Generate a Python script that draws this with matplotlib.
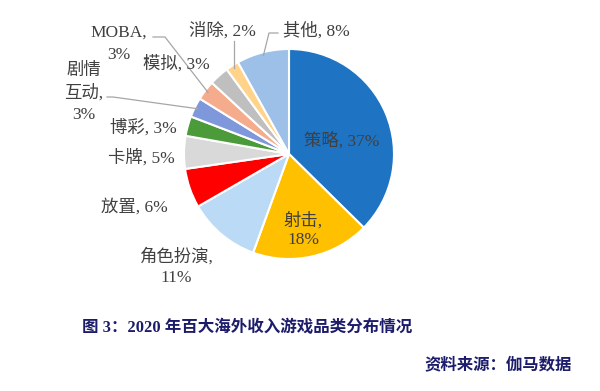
import numpy as np
import matplotlib
matplotlib.use("Agg")
import matplotlib.pyplot as plt

categories = ["策略", "射击", "角色扮演", "放置", "卡牌", "博彩", "剧情互动", "MOBA", "模拟", "消除", "其他"]
values = [37, 18, 11, 6, 5, 3, 3, 3, 3, 2, 8]
label_texts = ["策略, 37%", "射击,\n18%", "角色扮演,\n11%", "放置, 6%", "卡牌, 5%", "博彩, 3%",
               "剧情\n互动,\n3%", "MOBA,\n3%", "模拟, 3%", "消除, 2%", "其他, 8%"]
colors = ["#1F73C3", "#FFC000", "#BBDAF5", "#FF0000", "#D9D9D9", "#4B9B3A",
          "#7F98DC", "#F4AC8C", "#BFBFBF", "#FFD38A", "#9CC0E8"]

FONT = ["Liberation Serif", "Noto Sans CJK SC", "DejaVu Sans"]
W, H = 600, 391
fig = plt.figure(figsize=(6.0, 3.91), dpi=100)
ax = fig.add_axes([0, 0, 1, 1])

cx, cy, r = 289, H - 154, 105
wedges, _ = ax.pie(values, colors=colors, startangle=90, counterclock=False,
                   center=(cx, cy), radius=r, frame=True,
                   wedgeprops=dict(edgecolor="white", linewidth=1.5))
ax.set_xlim(0, W)
ax.set_ylim(0, H)
ax.set_aspect("equal")
ax.axis("off")

# label positions (pixel coords, y from top) and line spacing
pos = [
    (342, 141, 1.2),
    (303, 230, 1.25),
    (176, 267, 1.3),
    (134, 207, 1.2),
    (141, 158, 1.2),
    (143, 128, 1.2),
    (84, 93, 1.45),
    (119, 44, 1.55),
    (176, 64, 1.2),
    (222, 31, 1.2),
    (316, 31, 1.2),
]
tc = "#404040"
for t, (x, y, ls) in zip(label_texts, pos):
    ax.text(x, H - y, t, ha="center", va="center", fontsize=12.5, color=tc,
            family=FONT, linespacing=ls)

def edge_point(idx, frac_r=1.0):
    w = wedges[idx]
    ang = np.deg2rad((w.theta1 + w.theta2) / 2)
    return cx + r * frac_r * np.cos(ang), cy + r * frac_r * np.sin(ang)

lc = "#A6A6A6"
ex, ey = edge_point(6, 0.97)
ax.plot([107, 113, ex], [H - 97, H - 97, ey], color=lc, lw=0.9)
ex, ey = edge_point(7, 0.97)
ax.plot([153, 165, ex], [H - 37, H - 37, ey], color=lc, lw=0.9)
ex, ey = edge_point(9, 0.97)
ax.plot([ex, ex], [H - 41, ey], color=lc, lw=0.9)
ex, ey = edge_point(10, 0.97)
ax.plot([278, 269, ex], [H - 33, H - 33, ey], color=lc, lw=0.9)

navy = "#1C1C6B"
ax.text(82, H - 328, "图 3：2020 年百大海外收入游戏品类分布情况", ha="left", va="center",
        fontsize=11.9, fontweight="bold", color=navy, family=FONT)
ax.text(572, H - 365, "资料来源：伽马数据", ha="right", va="center",
        fontsize=11.8, fontweight="bold", color=navy, family=FONT)

fig.savefig("out.png", dpi=100)
